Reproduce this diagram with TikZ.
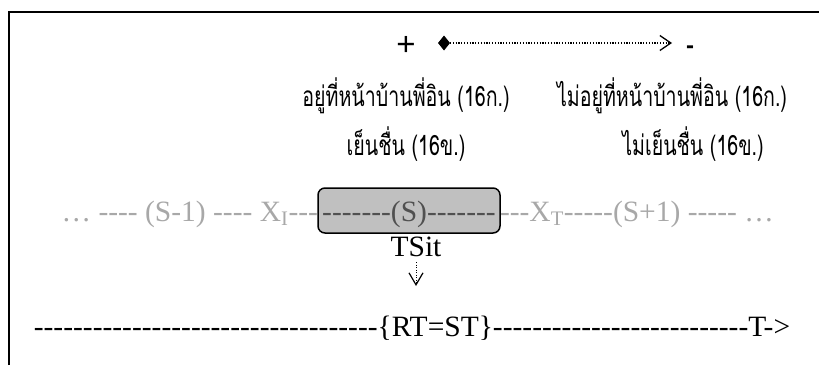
\documentclass[tikz,border=0pt]{standalone}
\usepackage{fontspec}
\usetikzlibrary{arrows.meta,shapes.geometric}
\newfontfamily\tnr{Liberation Serif}[Ligatures=TeXOff]
\newfontfamily\thaifont[Script=Thai]{Loma}
\newfontfamily\arial{Liberation Sans}[Ligatures=TeXOff]
\definecolor{rowgray}{RGB}{168,168,168}
\definecolor{rowdark}{RGB}{80,80,80}
\definecolor{boxgray}{RGB}{192,192,192}
\newcommand{\thaitxt}[1]{\scalebox{0.7}[1]{\thaifont\fontsize{28}{32}\selectfont #1}}
\begin{document}
\begin{tikzpicture}[x=1pt,y=-1pt,
  every node/.style={inner sep=0pt,outer sep=0pt},
  serif/.style={font=\tnr\fontsize{29.5}{34}\selectfont},
  thai/.style={anchor=base},
  dotline/.style={line width=1.3pt,dash pattern=on 1.2pt off 1.6pt},
  barb/.style={-{Straight Barb[length=11pt,width=15pt,line width=1.3pt]}},
]
\useasboundingbox (0,0) rectangle (819,365);
% frame
\draw[line width=2pt] (9,365) -- (9,12) -- (819,12);

% scale + to -
\node[font=\arial\fontsize{33}{36}\selectfont,anchor=base] (plus) at (406,55) {+};
\node[diamond,fill=black,minimum width=12pt,minimum height=15pt] (dia) at (444,43) {};
\coordinate (tip) at (672,43);
\draw[dotline,barb] (dia.east) -- (tip);
\node[font=\arial\bfseries\fontsize{24}{28}\selectfont,anchor=base] (minus) at (690,53) {-};

% Thai labels
\node[thai] (l1) at (406,106) {\thaitxt{อยู่ที่หน้าบ้านพี่อิน (16ก.)}};
\node[thai] (r1) at (672,106) {\thaitxt{ไม่อยู่ที่หน้าบ้านพี่อิน (16ก.)}};
\node[thai] (l2) at (406,155) {\thaitxt{เย็นชื่น (16ข.)}};
\node[thai] (r2) at (693,155) {\thaitxt{ไม่เย็นชื่น (16ข.)}};

% situation row
\node[draw,line width=1.5pt,rounded corners=7pt,fill=boxgray,
      minimum width=182pt,minimum height=45pt] (sbox) at (409,210.5) {};
\node[serif,text=rowgray,anchor=base east] (left) at (318,221)
  {… ---- (S-1) ---- X\textsubscript{I}---};
\node[serif,text=rowdark,anchor=base] (mid) at (409,221) {-------(S)-------};
\node[serif,text=rowgray,anchor=base west] (right) at (500,221)
  {---X\textsubscript{T}-----(S+1) ----- …};

% TSit and arrow
\node[serif,anchor=base] (tsit) at (416,256) {TSit};
\coordinate (dtip) at (416,286);
\draw[line width=1pt,dash pattern=on 1pt off 1.5pt,
      -{Straight Barb[length=12pt,width=14pt,line width=1.2pt]}]
  ([yshift=-6pt]tsit.south) -- (dtip);

% time line
\node[serif,anchor=base] (rt) at (412,336)
  {-----------------------------------\{RT=ST\}--------------------------T->};
\end{tikzpicture}
\end{document}
